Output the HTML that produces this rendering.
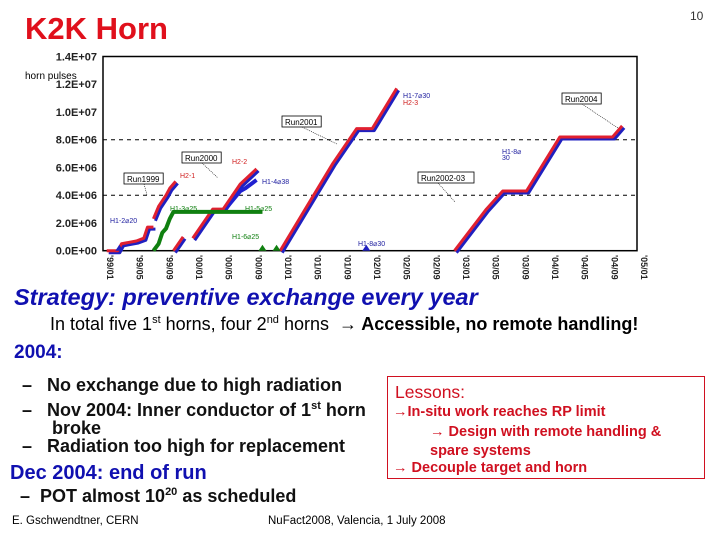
<!DOCTYPE html>
<html><head><meta charset="utf-8">
<style>
body{margin:0;width:720px;height:540px;background:#fff;font-family:"Liberation Sans",sans-serif;position:relative;overflow:hidden}
.a{position:absolute;white-space:nowrap}
</style></head><body>
<div class="a" style="left:25px;top:11px;font-size:31px;font-weight:bold;color:#e0101c">K2K Horn</div>
<div class="a" style="left:690px;top:9px;font-size:12px;color:#333">10</div>
<svg class="a" style="left:0;top:0" width="720" height="290">
<g id="chart"></g>
</svg>
<div class="a" style="left:14px;top:284px;font-size:23.5px;font-weight:bold;font-style:italic;color:#1010b0">Strategy: preventive exchange every year</div>
<div class="a" style="left:50px;top:314px;font-size:18px;color:#000">In total five 1<sup style="font-size:11px">st</sup> horns, four 2<sup style="font-size:11px">nd</sup> horns &nbsp;<b>→ Accessible, no remote handling!</b></div>
<div class="a" style="left:14px;top:342px;font-size:19px;font-weight:bold;color:#1010b0">2004:</div>
<div class="a" style="left:22px;top:375px;font-size:18px;font-weight:bold;color:#111">–&nbsp;&nbsp; No exchange due to high radiation</div>
<div class="a" style="left:22px;top:397px;font-size:18px;font-weight:bold;color:#111;line-height:18px">–&nbsp;&nbsp; Nov 2004: Inner conductor of 1<sup style="font-size:11px">st</sup> horn<br>&nbsp;&nbsp;&nbsp;&nbsp;&nbsp; broke</div>
<div class="a" style="left:22px;top:436px;font-size:18px;font-weight:bold;color:#111">–&nbsp;&nbsp; Radiation too high for replacement</div>
<div class="a" style="left:10px;top:462px;font-size:20px;font-weight:bold;color:#1010b0">Dec 2004: end of run</div>
<div class="a" style="left:20px;top:486px;font-size:18px;font-weight:bold;color:#111">–&nbsp; POT almost 10<sup style="font-size:11px">20</sup> as scheduled</div>
<div class="a" style="left:387px;top:376px;width:316px;height:101px;border:1.5px solid #d01020;color:#d01020;font-weight:bold">
<div class="a" style="left:7px;top:5px;font-size:17.5px;font-weight:normal">Lessons:</div>
<div class="a" style="left:5px;top:27px;font-size:14.5px">→In-situ work reaches RP limit</div>
<div class="a" style="left:42px;top:46px;font-size:14.5px;line-height:19px">→ Design with remote handling &amp;<br>spare systems</div>
<div class="a" style="left:5px;top:83px;font-size:14.5px">→ Decouple target and horn</div>
</div>
<div class="a" style="left:12px;top:515px;font-size:11.5px;color:#000">E. Gschwendtner, CERN</div>
<div class="a" style="left:268px;top:515px;font-size:11.5px;color:#000">NuFact2008, Valencia, 1 July 2008</div>
<script>
// months since 1999/01, values in 1e6 pulses
const xTicks=["'99/01","'99/05","'99/09","'00/01","'00/05","'00/09","'01/01","'01/05","'01/09","'02/01","'02/05","'02/09","'03/01","'03/05","'03/09","'04/01","'04/05","'04/09","'05/01"];
const yTicks=["0.0E+00","2.0E+06","4.0E+06","6.0E+06","8.0E+06","1.0E+07","1.2E+07","1.4E+07"];
const redA=[[0.5,0],[2,0],[2.5,0.5],[4.5,0.7],[5.5,0.9],[6,1.7],[6.8,1.7]];
const redB=[[6.8,2.3],[7.5,3.2],[8.5,4.0],[9,4.5],[9.8,5.0]];
const redC=[[9.5,0],[10.8,1.0]];
const redD=[[12.1,0.9],[14.8,3.0],[16.2,3.0],[18.5,4.8],[20.7,5.9]];
const blueD=[[16.5,3.0],[18.5,4.3],[19.2,4.5],[20.7,5.1]];
const green=[[6.8,0],[7.5,0.5],[8,1.3],[8.5,1.6],[9,2.3],[9.5,2.8],[21.5,2.8]];
const greenPts=[[21.5,0],[23.4,0]];
const redE=[[23.9,0],[27.5,3.2],[31,6.3],[34.2,8.8],[36.3,8.8],[39.6,11.7]];
const redF=[[47.4,0],[51.7,3.0],[53.9,4.3],[57.1,4.3],[61.6,8.2],[68.7,8.2],[70,9.0]];
const bluePts=[[2.2,0],[35.5,0]];
const X0=103,X1=637,Y0=250.7,Y1=56.5;
const sx=m=>X0+m*(X1-X0)/72, sy=v=>Y0-v*(Y0-Y1)/14;
const g=document.getElementById('chart');const NS='http://www.w3.org/2000/svg';
function mk(t,a){const e=document.createElementNS(NS,t);for(const k in a)e.setAttribute(k,a[k]);g.appendChild(e);return e;}
let fr=mk('rect',{x:X0,y:Y1,width:X1-X0,height:Y0-Y1,fill:'none',stroke:'#000','stroke-width':1.5});

[4,8].forEach(v=>{let l=mk('line',{x1:X0,x2:X1,y1:sy(v),y2:sy(v),stroke:'#000','stroke-dasharray':'4,4'});
});
yTicks.forEach((t,i)=>{let e=mk('text',{x:X0-6,y:sy(i*2)+4,'font-size':11,'font-weight':'bold','text-anchor':'end',fill:'#222'});e.textContent=t;
});
xTicks.forEach((t,i)=>{let x=sx(i*4);let e=mk('text',{transform:`translate(${x+4},255) rotate(90)`,'font-size':9,'font-weight':'bold',fill:'#222'});e.textContent=t;
});
let yl=mk('text',{x:25,y:79,'font-size':10,fill:'#000'});yl.textContent='horn pulses';

function series(arr,col,off,w,name){let pts=arr.map(p=>`${sx(p[0])+off},${sy(p[1])+off}`).join(' ');
let e=mk('polyline',{points:pts,fill:'none',stroke:col,'stroke-width':w,'stroke-linejoin':'round'});
}
[redA,redB,redC,redD,redE,redF].forEach(s=>series(s,'#2020c0',2,3,'blue-series'));
series(blueD,'#2020d0',0,4,'blue-series');
[redA,redB,redC,redD,redE,redF].forEach(s=>series(s,'#e02030',0,3,'red-series'));
series(green,'#108010',0,4,'green-series');
function tri(p,col){let x=sx(p[0]),y=sy(p[1]);let e=mk('polygon',{points:`${x-4},${y} ${x+4},${y} ${x},${y-6}`,fill:col});
}
greenPts.forEach(p=>tri(p,'#108010'));bluePts.forEach(p=>tri(p,'#2020c0'));
const notes=[["Run1999",124,173,147,195],["Run2000",182,152,218,178],["Run2001",282,116,337,144],["Run2002-03",418,172,455,202],["Run2004",562,93,618,128]];
notes.forEach(n=>{let r=mk('rect',{x:n[1],y:n[2],width:n[0].length*5.6,height:11,fill:'#fff',stroke:'#000','stroke-width':0.8});

let t=mk('text',{x:n[1]+3,y:n[2]+9,'font-size':8,fill:'#000'});t.textContent=n[0];

let l=mk('line',{x1:n[1]+20,y1:n[2]+11,x2:n[3],y2:n[4],stroke:'#000','stroke-width':0.6,'stroke-dasharray':'1,1'});
});
const labels=[["H1-2⌀20",110,223,'#2020a0'],["H2-1",180,178,'#d02020'],["H1-3⌀25",170,211,'#108010'],["H2-2",232,164,'#d02020'],["H1-4⌀38",262,184,'#2020a0'],["H1-5⌀25",245,211,'#108010'],["H1-6⌀25",232,239,'#108010'],["H1-7⌀30",403,98,'#2020a0'],["H2-3",403,105,'#d02020'],["H1-8⌀30",358,246,'#2020a0'],["H1-8⌀",502,154,'#2020a0'],["30",502,160,'#2020a0']];
labels.forEach(l=>{let t=mk('text',{x:l[1],y:l[2],'font-size':7,fill:l[3]});t.textContent=l[0];
});
</script>
</body></html>
